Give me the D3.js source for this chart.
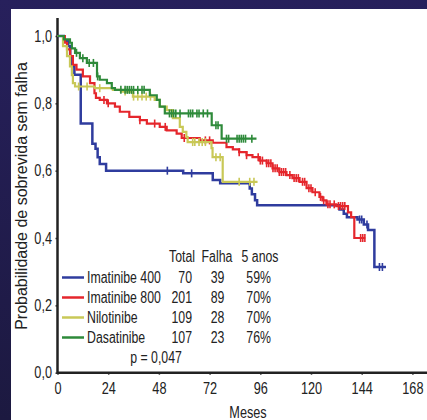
<!DOCTYPE html>
<html>
<head>
<meta charset="utf-8">
<script src="https://cdn.jsdelivr.net/npm/d3@7"></script>
<style>
  body { margin: 0; background: #221d52; }
  text { font-family: "Liberation Sans", Arial, sans-serif; fill: #222; }
</style>
</head>
<body>
<script>
const WIDTH = 427;
const HEIGHT = 420;
const ESTRECHO = 0.77; // el texto del original es angosto (Arial Narrow)

// DATOS: curvas de sobrevida (meses, probabilidad)
const imatinibe400 = [[0,1],[3,0.985],[5,0.97],[6,0.94],[7,0.91],[8,0.885],[11,0.74],[16.5,0.68],[18,0.665],[19,0.64],[20,0.62],[23,0.6],[59.5,0.592],[73.5,0.572],[77,0.563],[91,0.547],[92,0.53],[93.5,0.512],[94.5,0.497],[133.5,0.485],[135.5,0.472],[137,0.462],[142,0.455],[145,0.44],[147,0.424],[150,0.314]];
const imatinibe400Fim = 155.5;
const imatinibe400Censura = [52,63.5,143,144,146.5,152.4,153.8];

const imatinibe800 = [[0,1],[3.5,0.98],[4.5,0.96],[6,0.94],[7.3,0.914],[9,0.9],[12,0.88],[15.4,0.86],[17.5,0.83],[18.2,0.816],[20,0.81],[23.4,0.8],[27.2,0.79],[29.5,0.775],[34,0.76],[39,0.75],[42.3,0.74],[48.4,0.73],[51.7,0.72],[56.4,0.71],[58.8,0.697],[67.3,0.69],[73.5,0.683],[80,0.67],[83,0.663],[86,0.655],[89.5,0.646],[92.3,0.64],[95.7,0.63],[99,0.622],[101.8,0.607],[105,0.596],[108.4,0.587],[111.2,0.578],[114.6,0.567],[117.9,0.548],[120.7,0.536],[124,0.522],[125.4,0.512],[127.3,0.5],[132,0.495],[137.5,0.476],[139,0.462],[140.5,0.4]];
const imatinibe800Fim = 145.7;
const imatinibe800Censura = [22,24,39,46,51,60,70,72,86,89.5,95,96,97,99,100,101,102,103,104,105,106,107,108,110,112,113,114,116,117,119,120,122,124.5,126,128,129,131,133,134,135,136,143.5,144.5,145.5];

const nilotinibe = [[0,1],[2.6,0.97],[4.5,0.94],[5.9,0.91],[6.8,0.884],[7.3,0.86],[8.3,0.85],[17.7,0.845],[26.2,0.84],[30,0.835],[35.7,0.82],[46,0.81],[48.4,0.79],[51.7,0.78],[54.6,0.756],[57.9,0.73],[59.3,0.715],[61,0.7],[61.6,0.685],[72.9,0.667],[73.4,0.64],[78.2,0.567]];
const nilotinibeFim = 94.7;
const nilotinibeCensura = [10,14,20,32,36,38,40,42,44,64,65,67,68.5,70,75,77,86,91,93];

const dasatinibe = [[0,1],[3,0.99],[5.9,0.98],[6.8,0.963],[8.3,0.95],[10.6,0.934],[13.9,0.92],[18.7,0.88],[20,0.87],[23.4,0.86],[25.7,0.845],[27.2,0.84],[43.7,0.824],[47,0.81],[48.4,0.79],[50.8,0.77],[73,0.735],[77.7,0.695]];
const dasatinibeFim = 94.2;
const dasatinibeCensura = [9,12,15,17,19,30,32,33,34,35,36,38,40,41,53,54,55,56,58,62,63,64,66,67,69,71,75,76,80,81,85,86,87,88,89,92];

// Tabla de la leyenda
const nomes = ["Imatinibe 400", "Imatinibe 800", "Nilotinibe", "Dasatinibe"];
const totais = [70, 201, 109, 107];
const falhas = [39, 89, 28, 23];
const cincoAnos = ["59%", "70%", "70%", "76%"];
const cores = ["#2f3c9e", "#e5262c", "#c9c857", "#2e8a3a"];

const xTicks = [0, 24, 48, 72, 96, 120, 144, 168];
const yTicks = [0, 0.2, 0.4, 0.6, 0.8, 1.0];

const series = [
  { curva: imatinibe400, fim: imatinibe400Fim, censura: imatinibe400Censura, cor: cores[0], grosor: 2.5 },
  { curva: imatinibe800, fim: imatinibe800Fim, censura: imatinibe800Censura, cor: cores[1], grosor: 2.2 },
  { curva: nilotinibe, fim: nilotinibeFim, censura: nilotinibeCensura, cor: cores[2], grosor: 2.2 },
  { curva: dasatinibe, fim: dasatinibeFim, censura: dasatinibeCensura, cor: cores[3], grosor: 2.2 },
];

const svg = d3.select("body")
  .append("svg")
  .attr("width", WIDTH)
  .attr("height", HEIGHT);

// fondo azul + panel blanco
const grad = svg.append("defs").append("linearGradient")
  .attr("id", "fondo").attr("x1", 0).attr("y1", 0).attr("x2", 0).attr("y2", 1);
grad.append("stop").attr("offset", "0%").attr("stop-color", "#27205c");
grad.append("stop").attr("offset", "100%").attr("stop-color", "#1c1940");
svg.append("rect").attr("width", WIDTH).attr("height", HEIGHT).attr("fill", "url(#fondo)");
svg.append("rect").attr("x", 11).attr("y", 9).attr("width", WIDTH - 11).attr("height", HEIGHT - 9).attr("fill", "white");

const escalaX = d3.scaleLinear().domain([0, 168]).range([57.5, 412.4]);
const escalaY = d3.scaleLinear().domain([0, 1]).range([372.7, 36]);

// texto angosto en (x, y)
function texto(padre, x, y, str, anchor, size) {
  return padre.append("text")
    .attr("transform", `translate(${x}, ${y}) scale(${ESTRECHO}, 1)`)
    .attr("text-anchor", anchor || "start")
    .attr("font-size", size || 16)
    .text(str);
}

// EJES
const ejeX = svg.append("g")
  .attr("transform", `translate(0, ${escalaY(0)})`)
  .call(d3.axisBottom(escalaX).tickValues(xTicks).tickSize(2).tickPadding(8).tickSizeOuter(0));
const ejeY = svg.append("g")
  .attr("transform", `translate(${escalaX(0)}, 0)`)
  .call(d3.axisLeft(escalaY).tickValues(yTicks).tickSize(2).tickPadding(4).tickSizeOuter(0)
    .tickFormat(d => d3.format(".1f")(d).replace(".", ",")));

[ejeX, ejeY].forEach(eje => {
  eje.select(".domain").remove();
  eje.selectAll(".tick line").attr("stroke", "#333").attr("stroke-width", 1.5);
  eje.selectAll(".tick text").attr("font-size", 16.5).attr("fill", "#222")
    .style("font-family", '"Liberation Sans", Arial, sans-serif')
    .attr("transform", `scale(${ESTRECHO}, 1)`);
});
ejeY.selectAll(".tick text").attr("x", -5.5 / ESTRECHO);

svg.append("line")
  .attr("x1", escalaX(0)).attr("x2", WIDTH)
  .attr("y1", escalaY(0)).attr("y2", escalaY(0))
  .attr("stroke", "#222").attr("stroke-width", 2.5);
svg.append("line")
  .attr("x1", escalaX(0)).attr("x2", escalaX(0))
  .attr("y1", 18).attr("y2", escalaY(0) + 1)
  .attr("stroke", "#222").attr("stroke-width", 2.5);

// titulos
texto(svg, 248, 418, "Meses", "middle", 16.5);
svg.append("text")
  .attr("transform", "translate(27, 196) rotate(-90)")
  .attr("text-anchor", "middle")
  .attr("font-size", 16)
  .text("Probabilidade de sobrevida sem falha");

// CURVAS
const linea = d3.line()
  .x(d => escalaX(d[0]))
  .y(d => escalaY(d[1]))
  .curve(d3.curveStepAfter);

const valorEn = (curva, t) => {
  const i = d3.bisector(d => d[0]).right(curva, t) - 1;
  return curva[Math.max(0, i)][1];
};

series.forEach(s => {
  const puntos = s.curva.concat([[s.fim, s.curva[s.curva.length - 1][1]]]);
  const g = svg.append("g");
  g.append("path")
    .attr("d", linea(puntos))
    .attr("fill", "none")
    .attr("stroke", s.cor)
    .attr("stroke-width", s.grosor);
  g.selectAll("line")
    .data(s.censura)
    .join("line")
    .attr("x1", t => escalaX(t)).attr("x2", t => escalaX(t))
    .attr("y1", t => escalaY(valorEn(s.curva, t)) - 4)
    .attr("y2", t => escalaY(valorEn(s.curva, t)) + 4)
    .attr("stroke", s.cor)
    .attr("stroke-width", 1.6);
});

// LEYENDA
const leyenda = svg.append("g");
texto(leyenda, 195, 262, "Total", "end");
texto(leyenda, 217, 262, "Falha", "middle");
texto(leyenda, 260, 262, "5 anos", "middle");

nomes.forEach((nome, i) => {
  const y = 283 + 20 * i;
  leyenda.append("line")
    .attr("x1", 62).attr("x2", 84).attr("y1", y - 5.5).attr("y2", y - 5.5)
    .attr("stroke", cores[i]).attr("stroke-width", 2.5);
  texto(leyenda, 87, y, nome, "start");
  texto(leyenda, 192, y, totais[i], "end");
  texto(leyenda, 217.5, y, falhas[i], "middle");
  texto(leyenda, 271, y, cincoAnos[i], "end");
});

texto(leyenda, 156, 363, "p = 0,047", "middle");
</script>
</body>
</html>
